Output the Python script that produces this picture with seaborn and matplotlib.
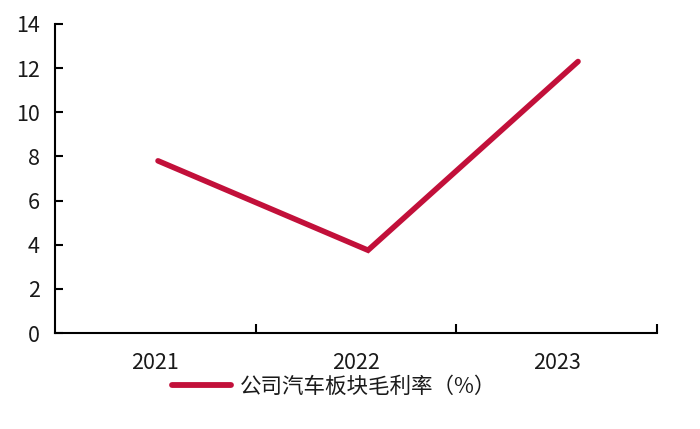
import matplotlib
matplotlib.use("Agg")
import matplotlib.pyplot as plt
import seaborn as sns
import pandas as pd

years = ["2021", "2022", "2023"]
margin = [7.8, 3.75, 12.3]
series_name = "公司汽车板块毛利率（%）"
y_ticks = [0, 2, 4, 6, 8, 10, 12, 14]

sns.set_theme(style="white")
plt.rcParams["font.family"] = ["Noto Sans CJK SC", "DejaVu Sans"]

df = pd.DataFrame({"year": years, "value": margin})

fig = plt.figure(figsize=(7, 4.29), dpi=100)
ax = fig.add_axes([55 / 700, 1 - 333 / 429, (657 - 55) / 700, (333 - 24) / 429])

# category axis
ax.set_xlim(-0.5, len(years) - 0.5)
ax.set_ylim(0, 14)
ax.set_yticks(y_ticks)
ax.set_yticklabels([str(t) for t in y_ticks], fontsize=15.5, color="#1a1a1a")
ax.set_xticks(range(len(years)))
ax.set_xticklabels(years, fontsize=15.5, color="#1a1a1a")
ax.set_xticks([i + 0.5 for i in range(len(years))], minor=True)
ax.tick_params(axis="x", which="major", length=0, pad=14)
ax.tick_params(axis="x", which="minor", direction="in", length=6.5, width=1.5, color="black")
ax.tick_params(axis="y", direction="in", length=6, width=1.5, color="black", pad=11, left=True)
for s in ["top", "right"]:
    ax.spines[s].set_visible(False)
for s in ["left", "bottom"]:
    ax.spines[s].set_color("black")
    ax.spines[s].set_linewidth(1.5)

# line on a twin x-scale (points sit slightly right of the category centres)
ax2 = ax.twiny()
sns.lineplot(data=df, x="year", y="value", ax=ax2, color="#C2103A",
             linewidth=4, solid_capstyle="round", solid_joinstyle="miter",
             label=series_name, legend=False)
ax2.set_xlim(-0.4905, 2.376)
ax2.set_ylim(0, 14)
ax2.set_xticks([])
ax2.set_xlabel("")
ax2.set_ylabel("")
for s in ax2.spines.values():
    s.set_visible(False)
ax.set_xlabel("")
ax.set_ylabel("")

handles, labels = ax2.get_legend_handles_labels()
leg = fig.legend(handles, labels, loc="center", bbox_to_anchor=(334 / 700, 1 - 387 / 429),
                 frameon=False, fontsize=15.5, handlelength=2.75, handletextpad=0.4,
                 borderpad=0)
for t in leg.get_texts():
    t.set_color("#1a1a1a")
for h in leg.legend_handles:
    h.set_linewidth(4.2)
    h.set_solid_capstyle("round")

fig.savefig("out.png", dpi=100, facecolor="white")
